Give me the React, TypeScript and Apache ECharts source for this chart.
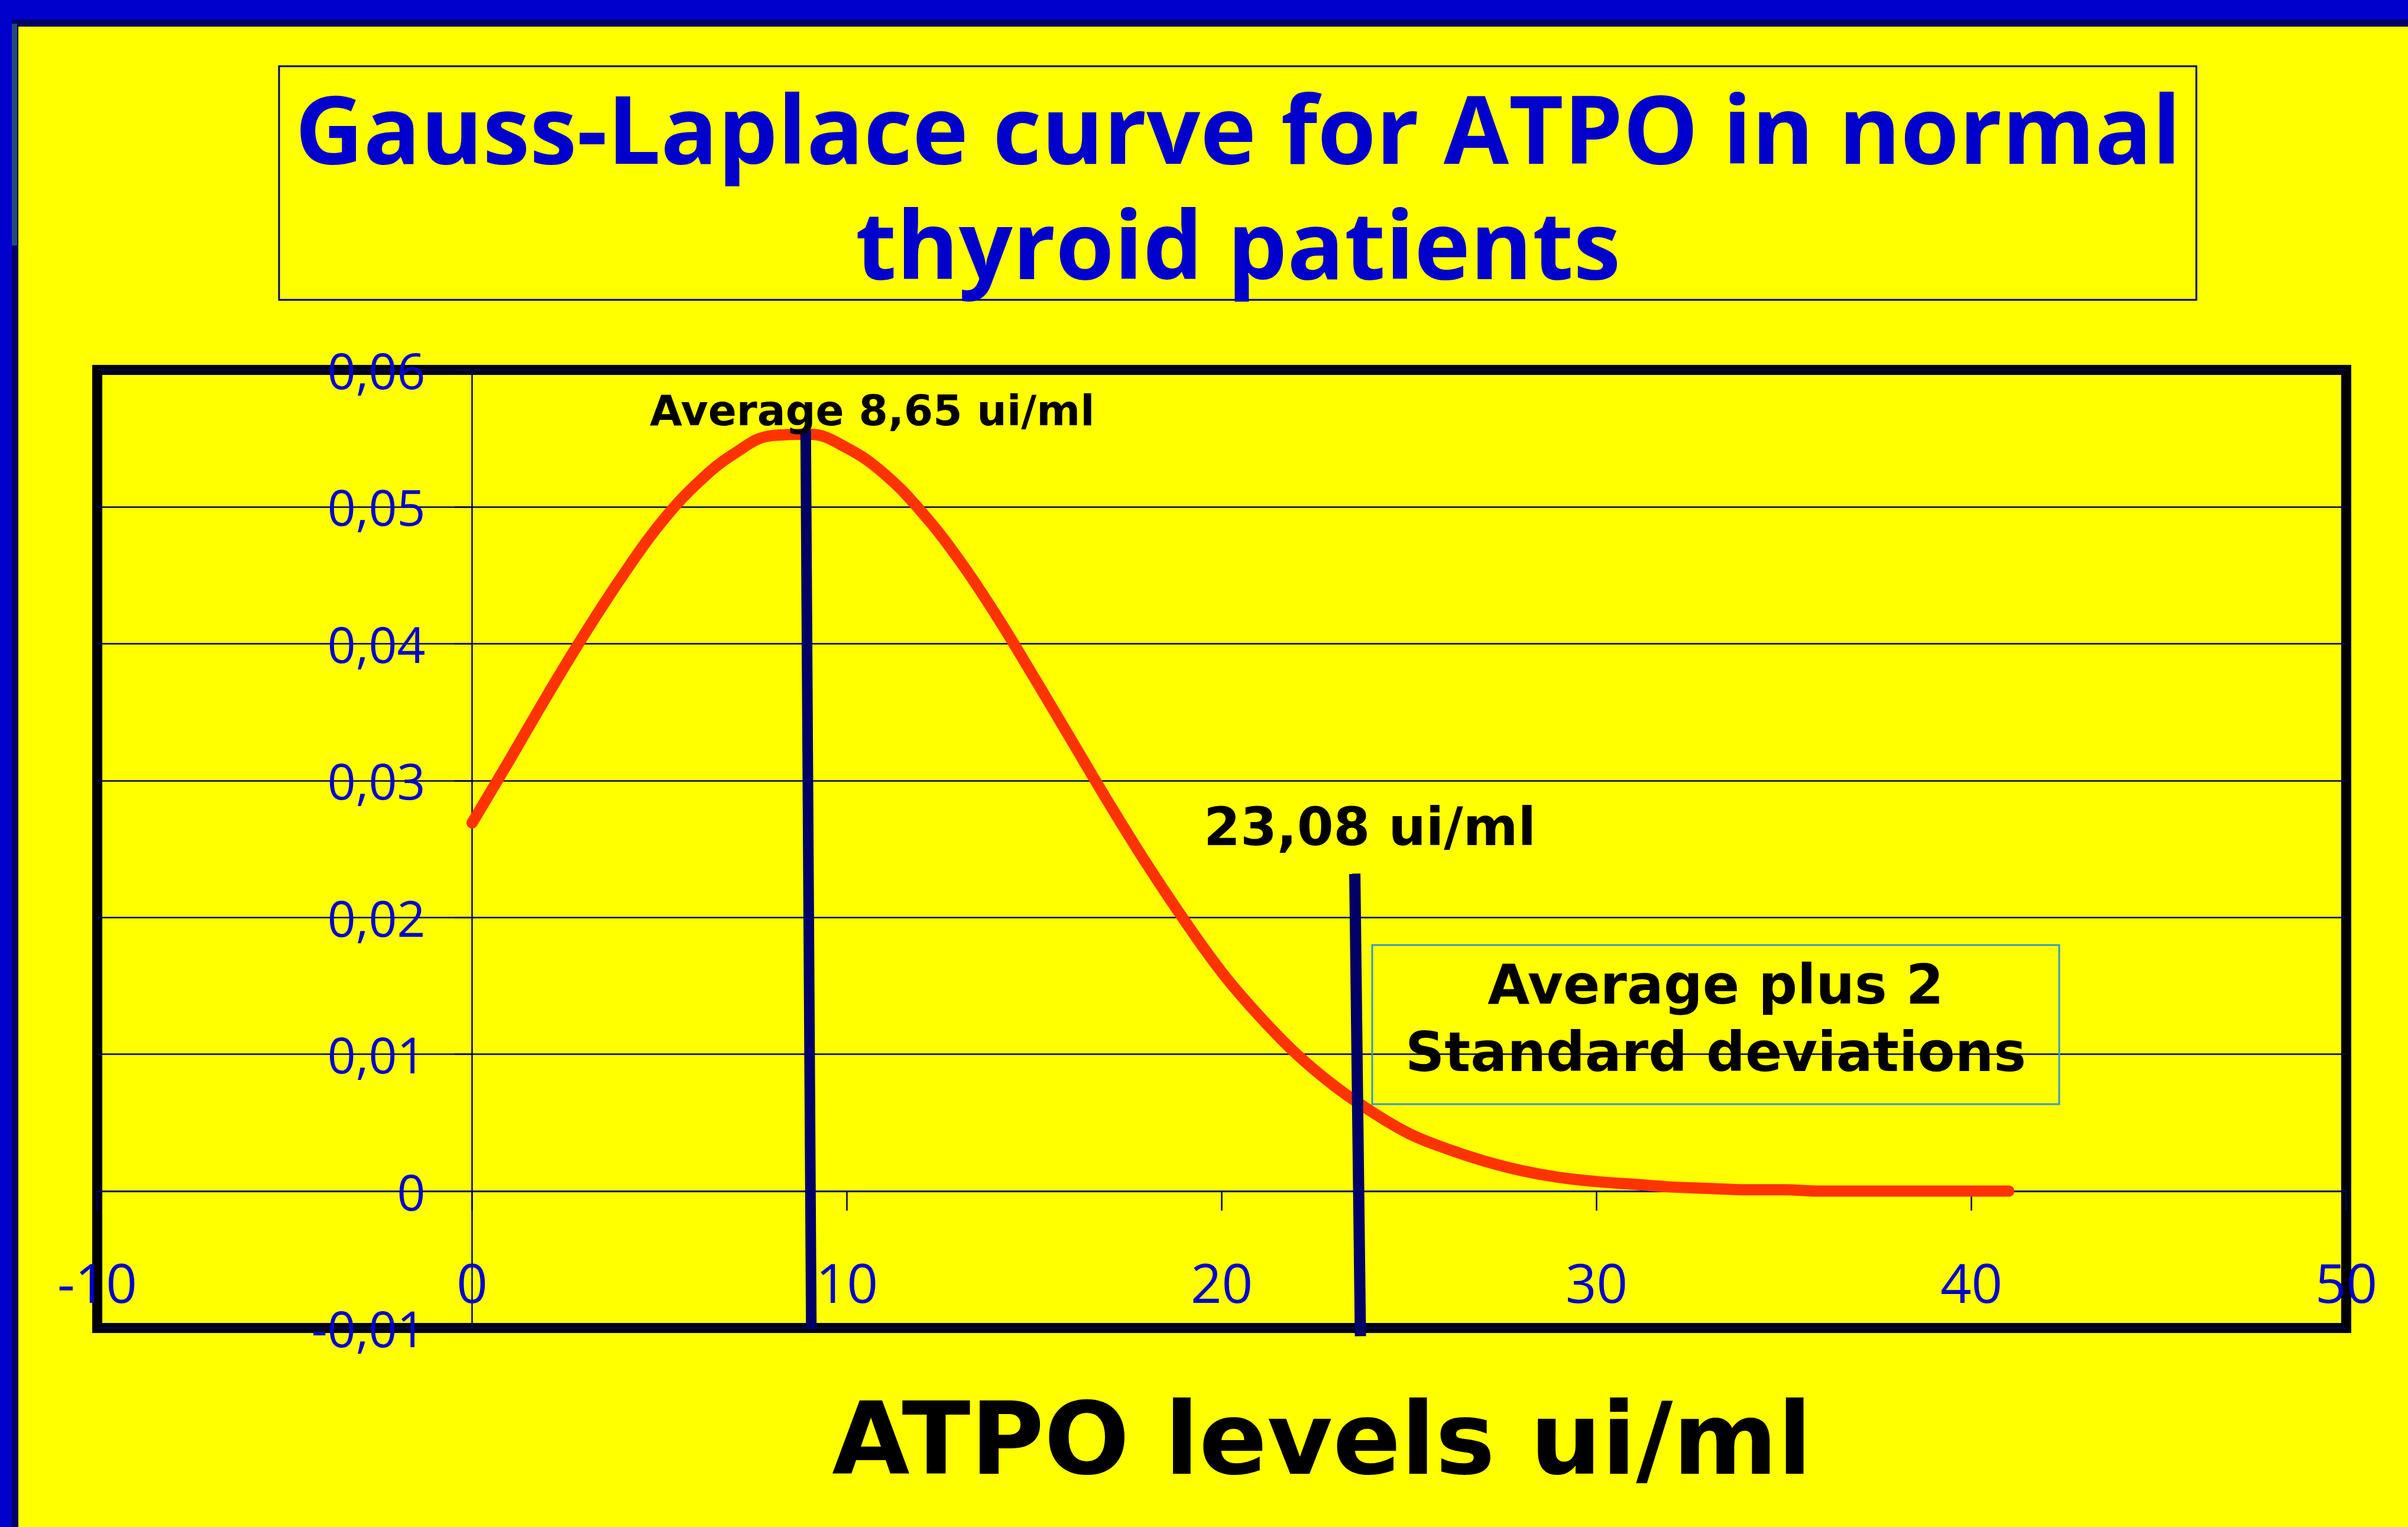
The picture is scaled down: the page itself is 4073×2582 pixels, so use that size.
import React, { useEffect, useRef } from 'react';
import * as echarts from 'echarts';

// ---- data ----
const xValues = [0, 1, 2, 3, 4, 5, 6, 7, 8, 9, 10, 11, 12, 13, 14, 15, 16, 17, 18, 19, 20, 21, 22, 23, 24, 25, 26, 27, 28, 29, 30, 31, 32, 33, 34, 35, 36, 37, 38, 39, 40, 41];
const densityValues = [0.0269, 0.0315, 0.0362, 0.0407, 0.0449, 0.0487, 0.0517, 0.0539, 0.0552, 0.0553, 0.0543, 0.0524, 0.0496, 0.0461, 0.0420, 0.0375, 0.0329, 0.0283, 0.0239, 0.0198, 0.0160, 0.0128, 0.0100, 0.0077, 0.0058, 0.0042, 0.0031, 0.0022, 0.0015, 0.0010, 0.0007, 0.0005, 0.0003, 0.0002, 0.0001, 0.0001, 0, 0, 0, 0, 0, 0];
const averageLine = [[8.9, 0.0556], [9.05, -0.0101]];
const plus2SdLine = [[23.55, 0.0232], [23.7, -0.0106]];
const xTickLabels = ['-10', '0', '10', '20', '30', '40', '50'];
const yTickLabels = ['-0,01', '0', '0,01', '0,02', '0,03', '0,04', '0,05', '0,06'];
const titleLines = ['Gauss-Laplace curve for ATPO in normal', 'thyroid patients'];
const xAxisTitle = 'ATPO levels ui/ml';
const averageLabel = 'Average 8,65 ui/ml';
const plus2SdLabel = '23,08 ui/ml';
const boxLines = ['Average plus 2', 'Standard deviations'];

const BLUE = '#0000CC';
const NAVY = '#000066';
const YELLOW = '#FFFF00';
const RED = '#FF3300';

function txt(text: string, x: number, y: number, size: number, family: string, fill: string, align: string, lineHeight?: number) {
  const style: any = {
    text,
    fill,
    fontSize: size,
    fontFamily: family,
    fontWeight: 'bold',
    align,
    verticalAlign: 'middle',
    textAlign: align,
    textVerticalAlign: 'middle',
  };
  if (lineHeight) style.lineHeight = lineHeight;
  return { type: 'text', x, y, z: 10, style };
}

export default function App() {
  const ref = useRef<HTMLDivElement>(null);
  useEffect(() => {
    if (!ref.current) return;
    const chart = echarts.init(ref.current, null, { renderer: 'svg' });
    const option: any = {
      animation: false,
      backgroundColor: YELLOW,
      grid: {
        left: 164.5,
        right: 104.5,
        top: 625.5,
        bottom: 336.5,
        show: true,
        borderColor: '#000000',
        borderWidth: 17,
        backgroundColor: 'transparent',
        containLabel: false,
        outerBoundsMode: 'none',
      },
      xAxis: {
        type: 'value',
        min: -10,
        max: 50,
        interval: 10,
        axisLine: { show: true, onZero: true, lineStyle: { color: NAVY, width: 3 } },
        axisTick: { show: true, inside: false, length: 33, lineStyle: { color: NAVY, width: 2.5 } },
        splitLine: { show: false },
        axisLabel: {
          show: true,
          showMinLabel: true,
          showMaxLabel: true,
          margin: -78,
          verticalAlign: 'middle',
          color: BLUE,
          fontSize: 92,
          fontFamily: 'Open Sans',
          formatter: (v: number) => xTickLabels[Math.round(v / 10) + 1] ?? '',
        },
      },
      yAxis: {
        type: 'value',
        min: -0.01,
        max: 0.06,
        interval: 0.01,
        axisLine: { show: true, onZero: true, lineStyle: { color: NAVY, width: 2.5 } },
        axisTick: { show: true, inside: false, length: 30, lineStyle: { color: NAVY, width: 2.5 } },
        splitLine: { show: true, lineStyle: { color: NAVY, width: 2.5 } },
        axisLabel: {
          show: true,
          showMinLabel: true,
          showMaxLabel: true,
          margin: -555,
          align: 'right',
          verticalAlign: 'middle',
          color: BLUE,
          fontSize: 84,
          fontFamily: 'Open Sans',
          formatter: (v: number) => yTickLabels[Math.round(v * 100) + 1] ?? '',
        },
      },
      series: [
        {
          type: 'line',
          name: 'Gauss-Laplace',
          data: xValues.map((x, i) => [x, densityValues[i]]),
          smooth: 0.4,
          showSymbol: false,
          symbol: 'none',
          clip: false,
          z: 3,
          lineStyle: { color: RED, width: 19, cap: 'round', join: 'round' },
        },
        {
          type: 'line',
          name: 'Average',
          data: averageLine,
          showSymbol: false,
          symbol: 'none',
          clip: false,
          z: 4,
          lineStyle: { color: NAVY, width: 18, cap: 'butt' },
        },
        {
          type: 'line',
          name: 'Average + 2 SD',
          data: plus2SdLine,
          showSymbol: false,
          symbol: 'none',
          clip: false,
          z: 4,
          lineStyle: { color: NAVY, width: 19, cap: 'butt' },
        },
      ],
      graphic: [
        { type: 'rect', z: 1, shape: { x: 0, y: 0, width: 4073, height: 33 }, style: { fill: BLUE } },
        { type: 'rect', z: 1, shape: { x: 0, y: 33, width: 4073, height: 12 }, style: { fill: NAVY } },
        { type: 'rect', z: 1, shape: { x: 0, y: 0, width: 20, height: 2582 }, style: { fill: BLUE } },
        { type: 'rect', z: 1, shape: { x: 20, y: 40, width: 11, height: 2542 }, style: { fill: NAVY } },
        { type: 'rect', z: 1, shape: { x: 20, y: 40, width: 9, height: 375 }, style: { fill: '#244A78' } },
        {
          type: 'rect',
          z: 1,
          shape: { x: 472, y: 112, width: 3243, height: 395 },
          style: { fill: 'none', stroke: '#000080', lineWidth: 3 },
        },
        {
          type: 'rect',
          z: 1,
          shape: { x: 2321, y: 1598, width: 1162, height: 269 },
          style: { fill: 'none', stroke: '#3399CC', lineWidth: 3 },
        },
        txt(titleLines.join('\n'), 2094, 312.5, 160, 'Open Sans', BLUE, 'center', 195),
        txt(averageLabel, 1099, 694, 71, 'DejaVu Sans', '#000000', 'left'),
        txt(plus2SdLabel, 2036, 1398, 89, 'DejaVu Sans', '#000000', 'left'),
        txt(boxLines.join('\n'), 2902, 1722, 92, 'DejaVu Sans', '#000000', 'center', 114),
        txt(xAxisTitle, 2236, 2433, 170, 'DejaVu Sans', '#000000', 'center'),
      ],
    };
    chart.setOption(option);
    return () => chart.dispose();
  }, []);
  return (
    <div
      ref={ref}
      style={{ position: 'absolute', left: 0, top: 0, width: 4073, height: 2582 }}
    />
  );
}
